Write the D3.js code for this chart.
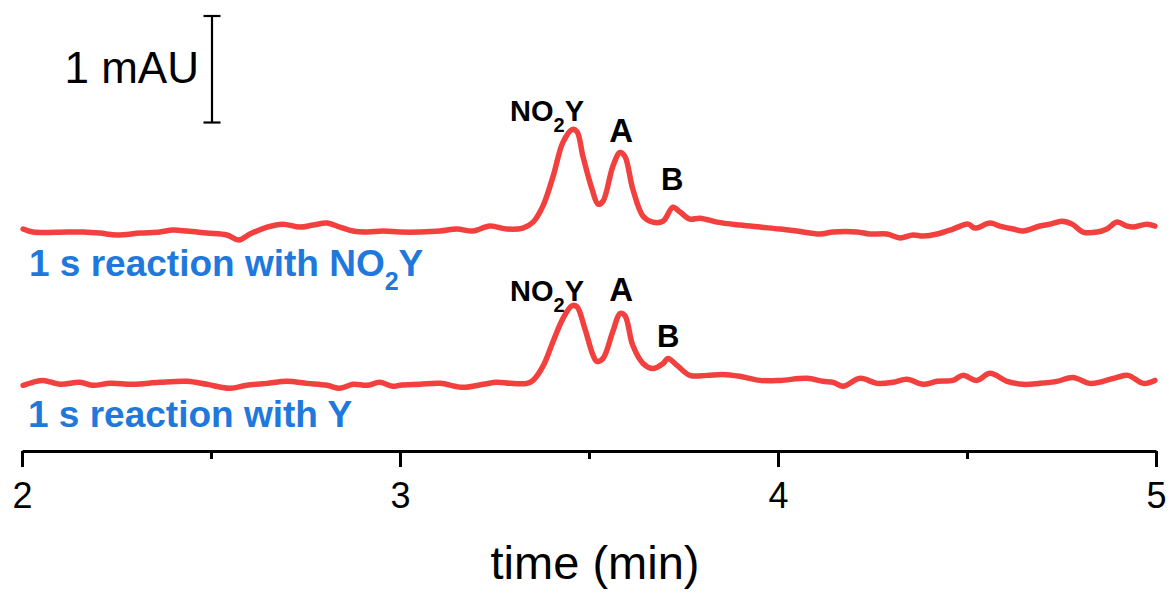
<!DOCTYPE html>
<html>
<head>
<meta charset="utf-8">
<script src="https://cdn.jsdelivr.net/npm/d3@7"></script>
<style>
  html, body { margin: 0; padding: 0; background: #fff; }
  svg { display: block; font-family: "Liberation Sans", Arial, sans-serif; }
</style>
</head>
<body>
<svg id="chart" width="1172" height="592"></svg>
<script>
// ---- data (time in min, absorbance in mAU relative to each trace's baseline) ----
const topTime = [2.003,2.029,2.119,2.161,2.206,2.251,2.312,2.365,2.399,2.437,2.489,2.542,2.574,2.603,2.648,2.690,2.735,2.770,2.807,2.841,2.876,2.913,2.955,3.000,3.053,3.106,3.151,3.193,3.238,3.283,3.325,3.352,3.378,3.405,3.431,3.455,3.468,3.484,3.508,3.524,3.537,3.563,3.582,3.595,3.616,3.643,3.669,3.696,3.722,3.741,3.767,3.794,3.839,3.899,3.952,4.005,4.050,4.111,4.146,4.209,4.243,4.288,4.323,4.357,4.384,4.421,4.463,4.503,4.521,4.561,4.587,4.622,4.648,4.693,4.720,4.751,4.778,4.807,4.844,4.870,4.897,4.923,4.939,4.976,4.997];
const topValue = [0.019,-0.009,-0.009,-0.009,-0.019,-0.037,-0.019,-0.009,0.009,0,-0.019,-0.037,-0.084,-0.028,0.037,0.065,0.037,0.056,0.075,0.037,0,-0.009,0,-0.009,-0.009,0,0.019,0,0.047,0.019,0.028,0.084,0.234,0.514,0.832,0.953,0.935,0.701,0.393,0.252,0.280,0.607,0.738,0.701,0.393,0.140,0.084,0.093,0.224,0.178,0.112,0.121,0.084,0.056,0.037,0.019,0,-0.028,-0.009,-0.009,-0.028,-0.028,-0.065,-0.037,-0.047,-0.028,0.019,0.065,0.028,0.075,0.047,0.019,0,0.047,0.065,0.093,0.065,-0.009,-0.009,0.019,0.084,0.047,0.037,0.065,0.047];

const botTime = [2.003,2.029,2.056,2.101,2.153,2.188,2.233,2.294,2.365,2.437,2.489,2.550,2.595,2.648,2.701,2.754,2.807,2.841,2.876,2.913,2.947,2.981,3.000,3.053,3.106,3.167,3.220,3.257,3.291,3.336,3.352,3.378,3.405,3.431,3.455,3.468,3.489,3.511,3.521,3.537,3.563,3.582,3.595,3.616,3.643,3.669,3.696,3.709,3.733,3.767,3.812,3.854,3.899,3.952,4.005,4.077,4.119,4.146,4.172,4.217,4.262,4.304,4.341,4.384,4.421,4.463,4.489,4.526,4.561,4.606,4.648,4.693,4.738,4.780,4.825,4.860,4.897,4.926,4.966,4.997];
const botValue = [-0.037,-0.009,0.009,-0.028,-0.009,-0.037,-0.019,-0.028,-0.009,0,-0.028,-0.065,-0.037,-0.019,0,-0.019,-0.037,-0.065,-0.028,-0.037,-0.009,-0.047,-0.037,-0.028,-0.019,-0.056,-0.028,-0.009,-0.019,-0.019,0.009,0.140,0.374,0.589,0.710,0.701,0.495,0.243,0.187,0.215,0.467,0.636,0.617,0.336,0.168,0.121,0.168,0.215,0.150,0.056,0.056,0.065,0.047,0.009,0.009,0.028,0,-0.009,-0.047,0.028,-0.019,-0.009,0.019,-0.028,0,0.009,0.056,0.009,0.075,0,-0.028,-0.019,0,0.037,-0.019,0,0.037,0.056,-0.019,0.009];

const traceOffsets = [2.065, 0.654];       // mAU stacking offsets (top, bottom)
const traceNames = ["1 s reaction with NO\u2082Y", "1 s reaction with Y"];
const peakTimes = [3.455, 3.585, 3.72];    // NO2Y, A, B
const peakLabels = ["NO2Y", "A", "B"];
const majorTicks = [2, 3, 4, 5];
const minorTicks = [2.5, 3.5, 4.5];
const scaleBarValue = 1;                   // mAU
const xLabel = "time (min)";

// ---- scales ----
const svg = d3.select("#chart");
const x = d3.scaleLinear().domain([2, 5]).range([22, 1156]);
const y = d3.scaleLinear().domain([0, 4.084]).range([451, 16]);
const mAUpx = y(0) - y(1);

const RED = "#f2403f";
const BLUE = "#1f78dc";

// ---- traces ----
const line = d3.line()
  .x(d => x(d[0]))
  .y(d => y(d[1]))
  .curve(d3.curveCatmullRom.alpha(0.5));

const traces = [
  d3.zip(topTime, topValue.map(v => v + traceOffsets[0])),
  d3.zip(botTime, botValue.map(v => v + traceOffsets[1]))
];

svg.selectAll("path.trace").data(traces).join("path")
  .attr("class", "trace")
  .attr("d", line)
  .attr("fill", "none")
  .attr("stroke", RED)
  .attr("stroke-width", 5.5)
  .attr("stroke-linejoin", "round")
  .attr("stroke-linecap", "round");

// ---- axis ----
const axisG = svg.append("g").attr("transform", `translate(0,${y(0)})`);
axisG.call(d3.axisBottom(x).tickValues(majorTicks).tickSize(16).tickSizeOuter(0).tickFormat(d3.format("d")));
axisG.select(".domain").attr("stroke", "#000").attr("stroke-width", 3);
axisG.selectAll(".tick line").attr("stroke", "#000").attr("stroke-width", 3);
axisG.selectAll(".tick text")
  .attr("y", 57).attr("dy", 0)
  .attr("font-size", 36)
  .attr("font-family", "'Liberation Sans', Arial, sans-serif")
  .attr("fill", "#000");

const minorG = svg.append("g").attr("transform", `translate(0,${y(0)})`);
minorG.call(d3.axisBottom(x).tickValues(minorTicks).tickSize(8).tickSizeOuter(0).tickFormat(""));
minorG.select(".domain").remove();
minorG.selectAll(".tick line").attr("stroke", "#000").attr("stroke-width", 3);

svg.append("text")
  .attr("x", 595).attr("y", 579)
  .attr("text-anchor", "middle")
  .attr("font-size", 47)
  .attr("fill", "#000")
  .text(xLabel);

// ---- scale bar ----
const sbX = 212, sbTop = 16;
svg.append("line").attr("x1", sbX).attr("x2", sbX)
  .attr("y1", sbTop).attr("y2", sbTop + scaleBarValue * mAUpx)
  .attr("stroke", "#000").attr("stroke-width", 2.2);
[sbTop, sbTop + scaleBarValue * mAUpx].forEach(yy => {
  svg.append("line").attr("x1", sbX - 8.5).attr("x2", sbX + 8.5)
    .attr("y1", yy).attr("y2", yy)
    .attr("stroke", "#000").attr("stroke-width", 2.2);
});
svg.append("text")
  .attr("x", 199).attr("y", 83)
  .attr("text-anchor", "end")
  .attr("font-size", 44)
  .attr("fill", "#000")
  .text(`${scaleBarValue} mAU`);

// ---- trace names (blue) ----
const nameBaselines = [276, 427];
function subText(sel, parts, subSize) {
  parts.forEach(p => {
    const t = sel.append("tspan").text(p.t);
    if (p.sub) t.attr("font-size", subSize).attr("baseline-shift", "sub");
  });
}
svg.append("text").attr("x", 29).attr("y", nameBaselines[0])
  .attr("font-size", 37).attr("font-weight", "bold").attr("fill", BLUE)
  .call(s => subText(s, [{t: "1 s reaction with NO"}, {t: "2", sub: true}, {t: "Y"}], 25));
svg.append("text").attr("x", 28).attr("y", nameBaselines[1])
  .attr("font-size", 37).attr("font-weight", "bold").attr("fill", BLUE)
  .text(traceNames[1]);

// ---- peak labels ----
const labelLayout = [
  // [NO2Y baseline, A baseline, B baseline] for each trace
  [121, 142, 190],
  [301, 301, 347]
];
const bxShift = [0, -4];
labelLayout.forEach((bl, ti) => {
  svg.append("text")
    .attr("x", x(peakTimes[0]) + 12).attr("y", bl[0])
    .attr("text-anchor", "end")
    .attr("font-size", 29).attr("font-weight", "bold").attr("fill", "#000")
    .call(s => subText(s, [{t: "NO"}, {t: "2", sub: true}, {t: "Y"}], 20));
  svg.append("text")
    .attr("x", x(peakTimes[1])).attr("y", bl[1])
    .attr("text-anchor", "middle")
    .attr("font-size", 33).attr("font-weight", "bold").attr("fill", "#000")
    .text(peakLabels[1]);
  svg.append("text")
    .attr("x", x(peakTimes[2]) + bxShift[ti]).attr("y", bl[2])
    .attr("text-anchor", "middle")
    .attr("font-size", 31).attr("font-weight", "bold").attr("fill", "#000")
    .text(peakLabels[2]);
});
</script>
</body>
</html>
